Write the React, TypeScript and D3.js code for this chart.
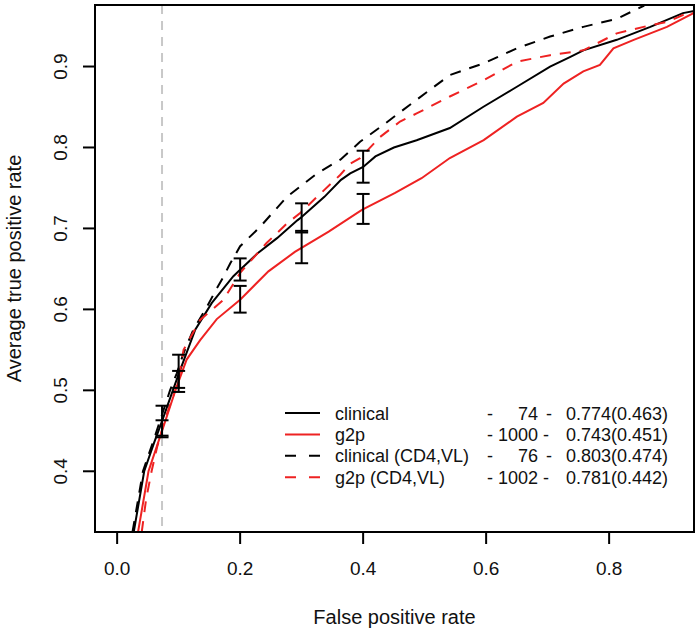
import React from "react";
import * as d3 from "d3";

// ---- data ----
const clinicalX = [0.027, 0.044, 0.06, 0.073, 0.086, 0.1, 0.127, 0.154, 0.189, 0.2, 0.228, 0.26, 0.293, 0.3, 0.337, 0.364, 0.379, 0.4, 0.42, 0.45, 0.487, 0.541, 0.595, 0.65, 0.704, 0.737, 0.758, 0.8125, 0.867, 0.92, 0.94];
const clinicalY = [0.325, 0.4, 0.435, 0.462, 0.49, 0.52, 0.575, 0.608, 0.641, 0.649, 0.669, 0.688, 0.71, 0.714, 0.739, 0.76, 0.768, 0.776, 0.789, 0.8, 0.809, 0.824, 0.85, 0.875, 0.9, 0.912, 0.92, 0.933, 0.949, 0.966, 0.969];

const g2pX = [0.034, 0.051, 0.073, 0.097, 0.113, 0.135, 0.162, 0.2, 0.246, 0.289, 0.344, 0.398, 0.452, 0.495, 0.541, 0.596, 0.65, 0.693, 0.726, 0.758, 0.785, 0.807, 0.84, 0.867, 0.894, 0.94];
const g2pY = [0.325, 0.4, 0.45, 0.505, 0.538, 0.562, 0.588, 0.612, 0.647, 0.671, 0.696, 0.723, 0.744, 0.762, 0.787, 0.809, 0.838, 0.855, 0.879, 0.894, 0.902, 0.9225, 0.933, 0.941, 0.949, 0.967];

const clinicalVLX = [0.025, 0.042, 0.06, 0.073, 0.086, 0.097, 0.108, 0.124, 0.146, 0.162, 0.173, 0.184, 0.2, 0.2325, 0.276, 0.325, 0.363, 0.395, 0.433, 0.487, 0.541, 0.596, 0.65, 0.704, 0.758, 0.8125, 0.856, 0.875];
const clinicalVLY = [0.325, 0.4, 0.44, 0.47, 0.5, 0.521, 0.546, 0.575, 0.603, 0.626, 0.6405, 0.657, 0.678, 0.702, 0.739, 0.768, 0.785, 0.807, 0.828, 0.859, 0.8895, 0.904, 0.9225, 0.937, 0.949, 0.959, 0.975, 0.99];

const g2pVLX = [0.04, 0.047, 0.056, 0.065, 0.078, 0.09, 0.1, 0.108, 0.135, 0.173, 0.2, 0.243, 0.276, 0.2976, 0.325, 0.3626, 0.379, 0.395, 0.4276, 0.46, 0.487, 0.541, 0.596, 0.65, 0.704, 0.758, 0.8125, 0.856, 0.894, 0.92, 0.94];
const g2pVLY = [0.325, 0.365, 0.4, 0.43, 0.465, 0.49, 0.513, 0.55, 0.587, 0.612, 0.645, 0.682, 0.706, 0.719, 0.739, 0.766, 0.78, 0.7867, 0.813, 0.832, 0.842, 0.863, 0.883, 0.906, 0.914, 0.92, 0.941, 0.949, 0.955, 0.9636, 0.967];

const errX = [0.073, 0.1, 0.2, 0.3, 0.4];
const clinicalLo = [0.444, 0.503, 0.6356, 0.695, 0.7565];
const clinicalHi = [0.481, 0.544, 0.663, 0.731, 0.796];
const g2pLo = [0.442, 0.498, 0.596, 0.657, 0.7056];
const g2pHi = [0.463, 0.524, 0.629, 0.697, 0.7426];

const cutoffX = 0.073;

const xTicks = [0.0, 0.2, 0.4, 0.6, 0.8];
const yTicks = [0.4, 0.5, 0.6, 0.7, 0.8, 0.9];

const legendNames = ["clinical", "g2p", "clinical (CD4,VL)", "g2p (CD4,VL)"];
const legendCounts = ["74", "1000", "76", "1002"];
const legendAuc = ["0.774(0.463)", "0.743(0.451)", "0.803(0.474)", "0.781(0.442)"];
const legendColors = ["#000000", "#ee2222", "#000000", "#ee2222"];
const legendDashed = [false, false, true, true];

const FONT = "'Liberation Sans', Arial, Helvetica, sans-serif";

export default function App() {
  const W = 699, H = 632;
  const L = 95, R = 694, T = 5, B = 532;
  const x = d3.scaleLinear().domain([-0.036, 0.938]).range([L, R]);
  const y = d3.scaleLinear().domain([0.325, 0.976]).range([B, T]);

  const line = d3.line<[number, number]>().x((d) => x(d[0])).y((d) => y(d[1]));
  const mk = (xs: number[], ys: number[]) => line(xs.map((v, i) => [v, ys[i]] as [number, number])) || "";

  const series = [
    { d: mk(clinicalX, clinicalY), color: legendColors[0], dash: legendDashed[0] },
    { d: mk(g2pX, g2pY), color: legendColors[1], dash: legendDashed[1] },
    { d: mk(clinicalVLX, clinicalVLY), color: legendColors[2], dash: legendDashed[2] },
    { d: mk(g2pVLX, g2pVLY), color: legendColors[3], dash: legendDashed[3] },
  ];

  const cap = 6.5;
  const bars: { xv: number; lo: number; hi: number }[] = [];
  errX.forEach((xv, i) => {
    bars.push({ xv, lo: clinicalLo[i], hi: clinicalHi[i] });
    bars.push({ xv, lo: g2pLo[i], hi: g2pHi[i] });
  });

  const legY0 = 413;
  const legDy = 21.4;

  return (
    <svg width={W} height={H} style={{ position: "absolute", left: 0, top: 0, background: "#fff" }} fontFamily={FONT}>
      <defs>
        <clipPath id="plotclip">
          <rect x={L} y={T} width={R - L} height={B - T} />
        </clipPath>
      </defs>
      <rect x={0} y={0} width={W} height={H} fill="#fff" />
      <g clipPath="url(#plotclip)">
        <line x1={x(cutoffX)} x2={x(cutoffX)} y1={T} y2={B} stroke="#c8c8c8" strokeWidth={2} strokeDasharray="9,7" />
        {series.map((s, i) => (
          <path key={i} d={s.d} fill="none" stroke={s.color} strokeWidth={2} strokeDasharray={s.dash ? "11,9" : undefined} />
        ))}
        {bars.map((b, i) => (
          <g key={i} stroke="#000" strokeWidth={2}>
            <line x1={x(b.xv)} x2={x(b.xv)} y1={y(b.lo)} y2={y(b.hi)} />
            <line x1={x(b.xv) - cap} x2={x(b.xv) + cap} y1={y(b.lo)} y2={y(b.lo)} />
            <line x1={x(b.xv) - cap} x2={x(b.xv) + cap} y1={y(b.hi)} y2={y(b.hi)} />
          </g>
        ))}
      </g>
      <rect x={L} y={T} width={R - L} height={B - T} fill="none" stroke="#000" strokeWidth={2} />
      {xTicks.map((t) => (
        <g key={t}>
          <line x1={x(t)} x2={x(t)} y1={B} y2={B + 12} stroke="#000" strokeWidth={2} />
          <text x={x(t)} y={575} textAnchor="middle" fontSize={19} fill="#111">{t.toFixed(1)}</text>
        </g>
      ))}
      {yTicks.map((t) => (
        <g key={t}>
          <line x1={L - 12} x2={L} y1={y(t)} y2={y(t)} stroke="#000" strokeWidth={2} />
          <text transform={`translate(67,${y(t)}) rotate(-90)`} textAnchor="middle" fontSize={19} fill="#111">{t.toFixed(1)}</text>
        </g>
      ))}
      <text x={(L + R) / 2} y={624} textAnchor="middle" fontSize={20} fill="#111">False positive rate</text>
      <text transform={`translate(21,${(T + B) / 2}) rotate(-90)`} textAnchor="middle" fontSize={20} fill="#111">Average true positive rate</text>
      {legendNames.map((n, i) => {
        const yy = legY0 + i * legDy;
        return (
          <g key={n} fontSize={18} fill="#111">
            <line x1={285} x2={320} y1={yy} y2={yy} stroke={legendColors[i]} strokeWidth={2} strokeDasharray={legendDashed[i] ? "11,13" : undefined} />
            <text x={335} y={yy + 6.5}>{n}</text>
            <text x={487} y={yy + 6.5}>-</text>
            <text x={538} y={yy + 6.5} textAnchor="end">{legendCounts[i]}</text>
            <text x={legendCounts[i].length > 2 ? 543 : 546} y={yy + 6.5}>-</text>
            <text x={668} y={yy + 6.5} textAnchor="end">{legendAuc[i]}</text>
          </g>
        );
      })}
    </svg>
  );
}
